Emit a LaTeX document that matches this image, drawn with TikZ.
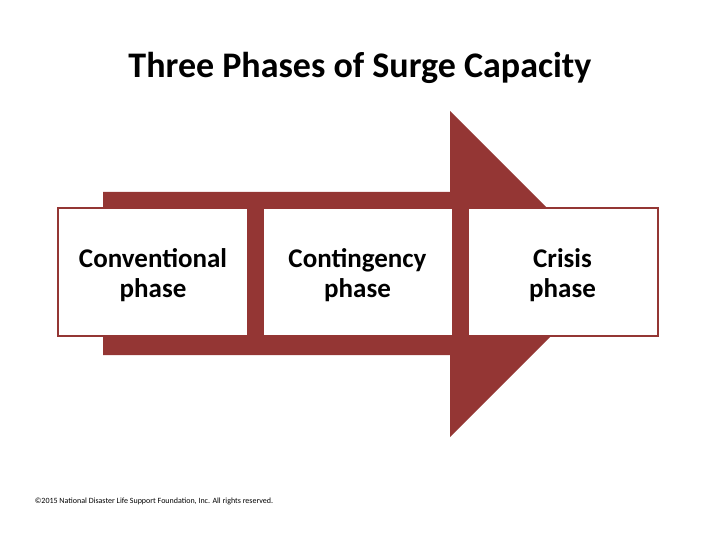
\documentclass[tikz,border=0pt]{standalone}
\usepackage{fontspec}
\setmainfont{Carlito}
\definecolor{surgered}{RGB}{148,54,52}
\newcommand{\phasestrut}{\rule{0pt}{26pt}}

\begin{document}
\begin{tikzpicture}[x=1pt, y=-1pt, every node/.style={inner sep=0pt}]
\useasboundingbox (0,0) rectangle (720,540);
\tikzset{phase/.style={draw=surgered, line width=2pt, fill=white, minimum width=190pt, minimum height=128pt, align=center, font=\bfseries\fontsize{27}{30}\selectfont}}
% Draw title
\node (title) at (360,68) {\bfseries\fontsize{36}{40}\selectfont Three Phases of Surge Capacity};
% Draw arrow
\fill[surgered] (103,192)--(450,192)--(450,111)--(613,274)--(450,437)--(450,355)--(103,355)--cycle;
% Draw phases
\node[phase] (conventional) at (153,272) {\phasestrut Conventional\\phase};
\node[phase] (contingency) at (357.5,272) {\phasestrut Contingency\\phase};
\node[phase] (crisis) at (562.5,272) {\phasestrut Crisis\\phase};
% Draw footer
\node (footer) at (154,501) {\fontsize{8}{9}\selectfont \textcopyright2015 National Disaster Life Support Foundation, Inc. All rights reserved.};
\end{tikzpicture}
\end{document}
